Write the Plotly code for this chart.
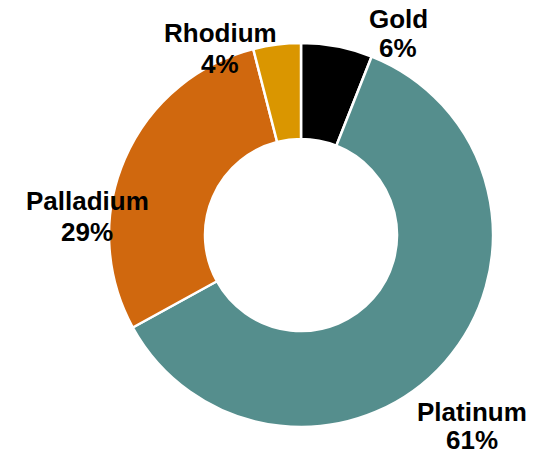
import plotly.graph_objects as go

metals = ["Gold", "Platinum", "Palladium", "Rhodium"]
shares = [6, 61, 29, 4]
colors = ["#000000", "#558E8D", "#D0680E", "#DA9600"]

W, H = 552, 456
# caption centres in pixels: (x, y of name line, y of percent line)
label_px = [(398, 18.5, 48), (472, 412, 439.5), (87, 201, 232.5), (220, 33, 64)]

fig = go.Figure(go.Pie(
    labels=metals,
    values=shares,
    sort=False,
    direction="clockwise",
    rotation=0,
    hole=0.5,
    marker=dict(colors=colors, line=dict(color="#FFFFFF", width=2.5)),
    textinfo="none",
    hoverinfo="label+percent",
    domain=dict(x=[0.1975, 0.8931], y=[0.0636, 0.9057]),
    showlegend=False,
))

font = dict(family="Liberation Sans, Arial, sans-serif", size=26, color="#000000")
for name, val, (px, py1, py2) in zip(metals, shares, label_px):
    for text, py in ((name, py1), (f"{val}%", py2)):
        fig.add_annotation(
            x=px / W, y=1 - py / H, xref="paper", yref="paper",
            text=f"<b>{text}</b>",
            showarrow=False,
            font=font,
            borderpad=0,
            xanchor="center", yanchor="middle",
        )

fig.update_layout(
    width=W, height=H,
    margin=dict(l=0, r=0, t=0, b=0),
    paper_bgcolor="#FFFFFF",
    plot_bgcolor="#FFFFFF",
)

fig.write_html("out.html")
